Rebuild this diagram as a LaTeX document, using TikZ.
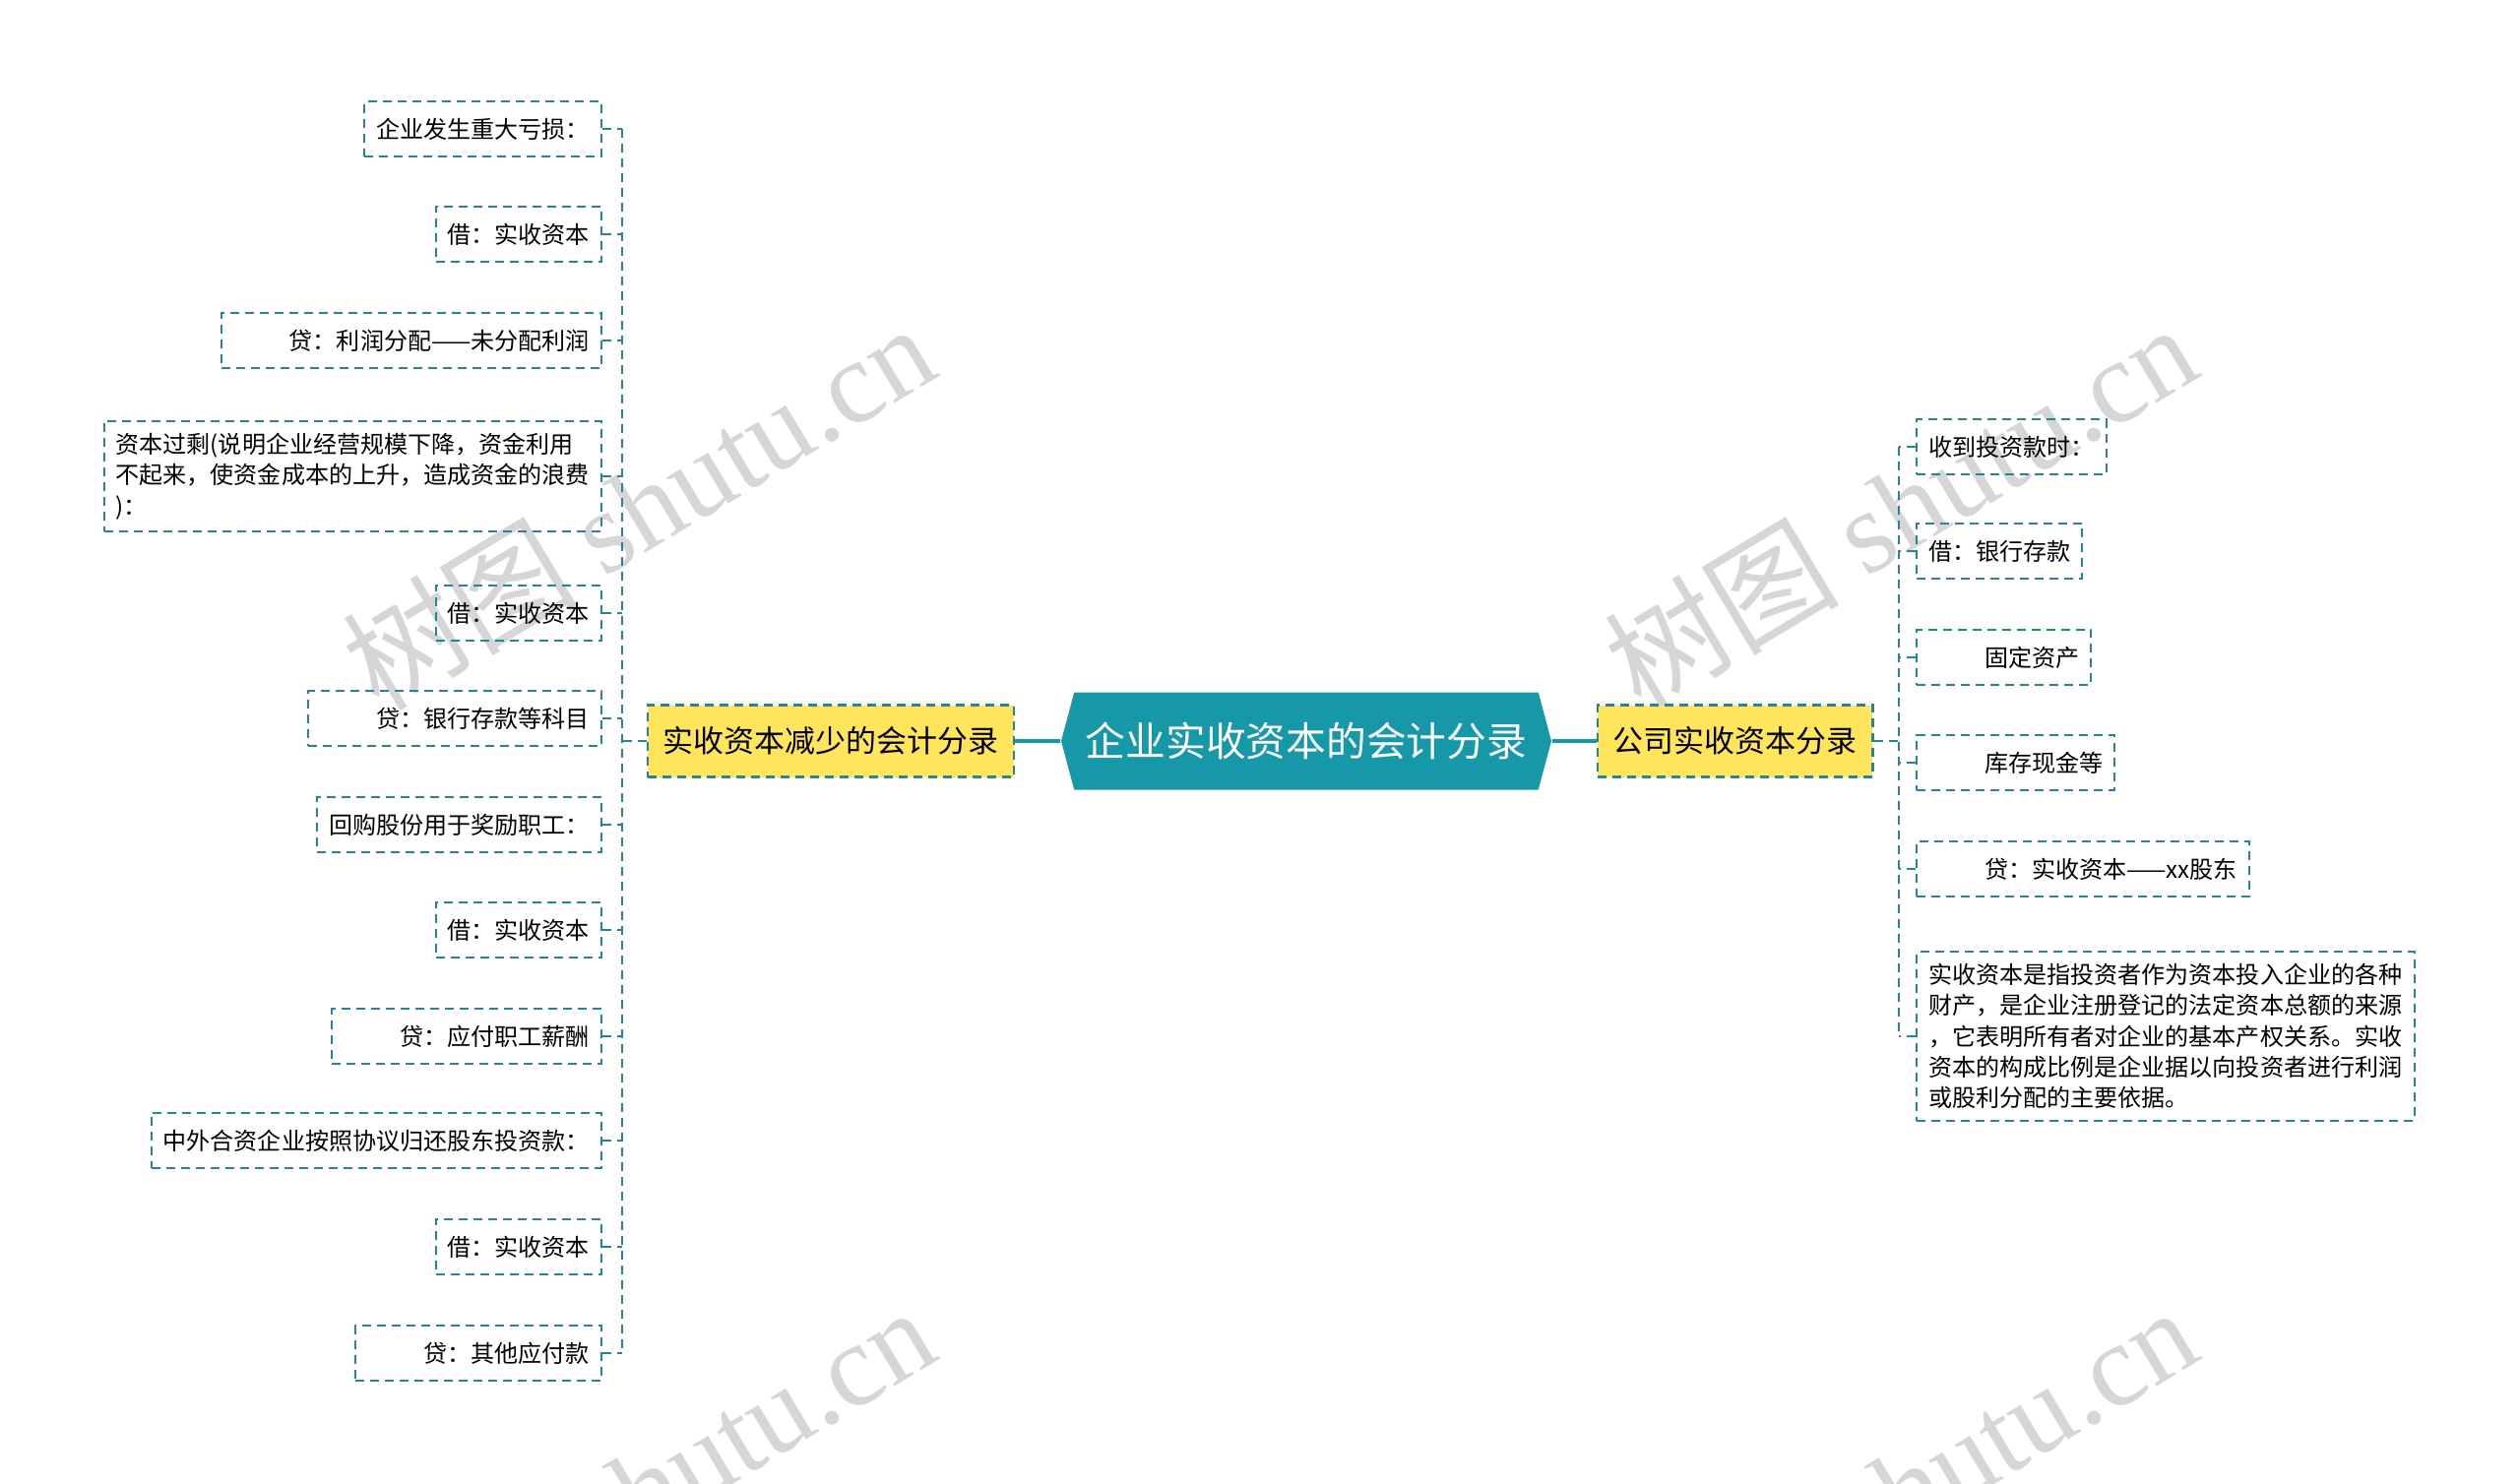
\documentclass[tikz,border=0pt]{standalone}
\usepackage{fontspec}
\setmainfont{Noto Sans CJK SC}
\newfontfamily\wmlatin{Liberation Serif}
\usetikzlibrary{%
		positioning%
		,shapes.symbols%
	}
\definecolor{rootteal}{RGB}{22,152,168}
\definecolor{lineteal}{RGB}{36,134,150}
\definecolor{topicyellow}{RGB}{255,229,92}
\tikzset{
	root/.style={signal, signal to=west and east, signal pointer angle=150, fill=rootteal, text=white,
		minimum width=49.8mm, minimum height=9.9mm, inner sep=0pt, font=\fontsize{11.6}{13}\selectfont},
	topic/.style={draw=lineteal, fill=topicyellow, line width=0.25mm, dash pattern=on 0.9mm off 0.6mm,
		minimum height=7.3mm, inner xsep=1.6mm, font=\fontsize{8.8}{10}\selectfont},
	leaf/.style={draw=lineteal, line width=0.2mm, dash pattern=on 0.9mm off 0.6mm, minimum height=5.6mm,
		inner xsep=1.2mm, inner ysep=1.2mm, align=left, font=\fontsize{6.85}{8.9}\selectfont},
	link/.style={draw=rootteal, line width=0.35mm},
	branch/.style={draw=lineteal, line width=0.2mm, dash pattern=on 0.9mm off 0.6mm},
	wmark/.style={text=black!16, font=\fontsize{34}{40}\selectfont, rotate=31},
}
\newcommand{\leafindent}{\hspace*{5.7mm}}
\begin{document}
\begin{tikzpicture}[x=0.1mm,y=-0.1mm]
			\useasboundingbox (0,0) rectangle (2560,1507);
			\begin{scope}
				\clip (0,0) rectangle (2560,1507);
				\node[wmark] (wm1) at (648,514) {树图 {\wmlatin shutu.cn}};
				\node[wmark] (wm2) at (1930,514) {树图 {\wmlatin shutu.cn}};
				\node[wmark] (wm3) at (648,1513) {树图 {\wmlatin shutu.cn}};
				\node[wmark] (wm4) at (1930,1513) {树图 {\wmlatin shutu.cn}};
			\end{scope}

			\node[root] (root) at (1327,753) {企业实收资本的会计分录};
			\node[topic, left=4.6mm of root] (lone) {实收资本减少的会计分录};
			\node[topic, right=4.5mm of root] (rone) {公司实收资本分录};
			\draw[link] (root.west) -- (lone.east);
			\draw[link] (root.east) -- (rone.west);

			\node[leaf, anchor=east] (a1) at (612,131) {企业发生重大亏损：};
			\node[leaf, anchor=east] (a2) at (612,238) {借：实收资本};
			\node[leaf, anchor=east] (a3) at (612,346) {\leafindent 贷：利润分配——未分配利润};
			\node[leaf, anchor=east] (a4) at (612,484) {资本过剩(说明企业经营规模下降，资金利用\\不起来，使资金成本的上升，造成资金的浪费\\)：};
			\node[leaf, anchor=east] (a5) at (612,623) {借：实收资本};
			\node[leaf, anchor=east] (a6) at (612,730) {\leafindent 贷：银行存款等科目};
			\node[leaf, anchor=east] (a7) at (612,838) {回购股份用于奖励职工：};
			\node[leaf, anchor=east] (a8) at (612,945) {借：实收资本};
			\node[leaf, anchor=east] (a9) at (612,1053) {\leafindent 贷：应付职工薪酬};
			\node[leaf, anchor=east] (a10) at (612,1159) {中外合资企业按照协议归还股东投资款：};
			\node[leaf, anchor=east] (a11) at (612,1267) {借：实收资本};
			\node[leaf, anchor=east] (a12) at (612,1375) {\leafindent 贷：其他应付款};

			\node[leaf, anchor=west] (b1) at (1946,454) {收到投资款时：};
			\node[leaf, anchor=west] (b2) at (1946,560) {借：银行存款};
			\node[leaf, anchor=west] (b3) at (1946,668) {\leafindent 固定资产};
			\node[leaf, anchor=west] (b4) at (1946,775) {\leafindent 库存现金等};
			\node[leaf, anchor=west] (b5) at (1946,883) {\leafindent 贷：实收资本——xx股东};
			\node[leaf, anchor=west] (b6) at (1946,1053) {实收资本是指投资者作为资本投入企业的各种\\财产，是企业注册登记的法定资本总额的来源\\，它表明所有者对企业的基本产权关系。实收\\资本的构成比例是企业据以向投资者进行利润\\或股利分配的主要依据。};

			\coordinate[left=2.5mm of lone] (ljoin);
			\coordinate[right=2.5mm of rone] (rjoin);
			\draw[branch] (lone.west) -- (ljoin);
			\draw[branch] (rone.east) -- (rjoin);
			\draw[branch] (a1.east -| ljoin) -- (a12.east -| ljoin);
			\draw[branch] (b1.west -| rjoin) -- (b6.west -| rjoin);
			\foreach \n in {a1,a2,a3,a4,a5,a6,a7,a8,a9,a10,a11,a12}
				\draw[branch] (\n.east) -- (\n.east -| ljoin);
			\foreach \n in {b1,b2,b3,b4,b5,b6}
				\draw[branch] (\n.west) -- (\n.west -| rjoin);
		\end{tikzpicture}
\end{document}
